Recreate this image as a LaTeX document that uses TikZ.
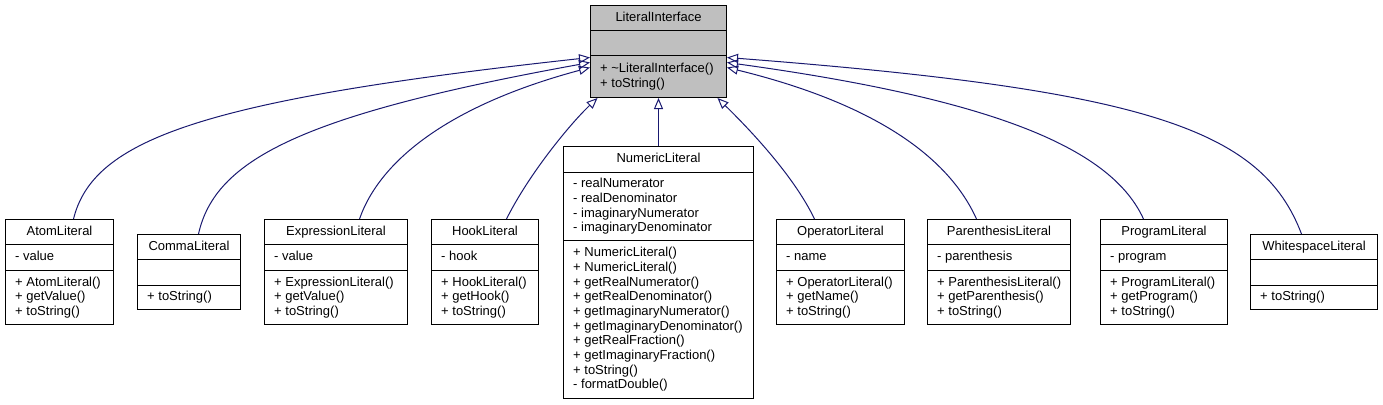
\documentclass[tikz,border=0pt]{standalone}
\usepackage{fontspec}
\setmainfont{Liberation Sans}
\usetikzlibrary{arrows.meta,calc}
\definecolor{edgeblue}{HTML}{191970}
\definecolor{ifacegray}{HTML}{BFBFBF}
\newcommand{\tstrut}{\rule{0pt}{11pt}}
\begin{document}
\begin{tikzpicture}[x=1pt,y=-1pt,
  clsbox/.style={draw=black, line width=1pt, fill=white, inner sep=0pt, anchor=north west},
  divline/.style={draw=black, line width=1pt},
  ttl/.style={font=\fontsize{13}{14.67}\selectfont, inner sep=0pt, anchor=base},
  mem/.style={font=\fontsize{13}{14.67}\selectfont, inner sep=0pt, anchor=north west, align=left},
  inh/.style={draw=edgeblue, line width=1pt, -{Triangle[open, length=11pt, width=9pt]}}]
\useasboundingbox (0,0) rectangle (1383,404);

% ---------- LiteralInterface
\node[clsbox, fill=ifacegray, minimum width=136pt, minimum height=92pt] (iface) at (590,5) {};
\draw[divline] ($(iface.north west)+(0,26)$) -- ($(iface.north east)+(0,26)$);
\draw[divline] ($(iface.north west)+(0,51)$) -- ($(iface.north east)+(0,51)$);
\node[ttl] (ifaceT) at ($(iface.north)+(0,16.5)$) {LiteralInterface};
\node[mem] (ifaceM) at ($(iface.north west)+(10,56.7)$) {\tstrut+ \textasciitilde LiteralInterface()\\+ toString()};

% ---------- AtomLiteral
\node[clsbox, minimum width=108pt, minimum height=105pt] (atom) at (5,219) {};
\draw[divline] ($(atom.north west)+(0,25)$) -- ($(atom.north east)+(0,25)$);
\draw[divline] ($(atom.north west)+(0,51)$) -- ($(atom.north east)+(0,51)$);
\node[ttl] (atomT) at ($(atom.north)+(0,16)$) {AtomLiteral};
\node[mem] (atomA) at ($(atom.north west)+(10,30.5)$) {\tstrut- value};
\node[mem] (atomM) at ($(atom.north west)+(10,55.8)$) {\tstrut+ AtomLiteral()\\+ getValue()\\+ toString()};

% ---------- CommaLiteral
\node[clsbox, minimum width=103pt, minimum height=75pt] (comma) at (137,234) {};
\draw[divline] ($(comma.north west)+(0,25)$) -- ($(comma.north east)+(0,25)$);
\draw[divline] ($(comma.north west)+(0,51)$) -- ($(comma.north east)+(0,51)$);
\node[ttl] (commaT) at ($(comma.north)+(0,16)$) {CommaLiteral};
\node[mem] (commaM) at ($(comma.north west)+(10,55.5)$) {\tstrut+ toString()};

% ---------- ExpressionLiteral
\node[clsbox, minimum width=143pt, minimum height=105pt] (expr) at (264,219) {};
\draw[divline] ($(expr.north west)+(0,25)$) -- ($(expr.north east)+(0,25)$);
\draw[divline] ($(expr.north west)+(0,51)$) -- ($(expr.north east)+(0,51)$);
\node[ttl] (exprT) at ($(expr.north)+(0,16)$) {ExpressionLiteral};
\node[mem] (exprA) at ($(expr.north west)+(10,30.5)$) {\tstrut- value};
\node[mem] (exprM) at ($(expr.north west)+(10,55.8)$) {\tstrut+ ExpressionLiteral()\\+ getValue()\\+ toString()};

% ---------- HookLiteral
\node[clsbox, minimum width=107pt, minimum height=105pt] (hook) at (431,219) {};
\draw[divline] ($(hook.north west)+(0,25)$) -- ($(hook.north east)+(0,25)$);
\draw[divline] ($(hook.north west)+(0,51)$) -- ($(hook.north east)+(0,51)$);
\node[ttl] (hookT) at ($(hook.north)+(0,16)$) {HookLiteral};
\node[mem] (hookA) at ($(hook.north west)+(10,30.5)$) {\tstrut- hook};
\node[mem] (hookM) at ($(hook.north west)+(10,55.8)$) {\tstrut+ HookLiteral()\\+ getHook()\\+ toString()};

% ---------- NumericLiteral
\node[clsbox, minimum width=190pt, minimum height=252pt] (num) at (563,146) {};
\draw[divline] ($(num.north west)+(0,26)$) -- ($(num.north east)+(0,26)$);
\draw[divline] ($(num.north west)+(0,94)$) -- ($(num.north east)+(0,94)$);
\node[ttl] (numT) at ($(num.north)+(0,16.5)$) {NumericLiteral};
\node[mem] (numA) at ($(num.north west)+(10,30.5)$) {\tstrut- realNumerator\\- realDenominator\\- imaginaryNumerator\\- imaginaryDenominator};
\node[mem] (numM) at ($(num.north west)+(10,99.5)$) {\tstrut+ NumericLiteral()\\+ NumericLiteral()\\+ getRealNumerator()\\+ getRealDenominator()\\+ getImaginaryNumerator()\\+ getImaginaryDenominator()\\+ getRealFraction()\\+ getImaginaryFraction()\\+ toString()\\- formatDouble()};

% ---------- OperatorLiteral
\node[clsbox, minimum width=128pt, minimum height=105pt] (oper) at (776,219) {};
\draw[divline] ($(oper.north west)+(0,25)$) -- ($(oper.north east)+(0,25)$);
\draw[divline] ($(oper.north west)+(0,51)$) -- ($(oper.north east)+(0,51)$);
\node[ttl] (operT) at ($(oper.north)+(0,16)$) {OperatorLiteral};
\node[mem] (operA) at ($(oper.north west)+(10,30.5)$) {\tstrut- name};
\node[mem] (operM) at ($(oper.north west)+(10,55.8)$) {\tstrut+ OperatorLiteral()\\+ getName()\\+ toString()};

% ---------- ParenthesisLiteral
\node[clsbox, minimum width=143pt, minimum height=105pt] (paren) at (927,219) {};
\draw[divline] ($(paren.north west)+(0,25)$) -- ($(paren.north east)+(0,25)$);
\draw[divline] ($(paren.north west)+(0,51)$) -- ($(paren.north east)+(0,51)$);
\node[ttl] (parenT) at ($(paren.north)+(0,16)$) {ParenthesisLiteral};
\node[mem] (parenA) at ($(paren.north west)+(10,30.5)$) {\tstrut- parenthesis};
\node[mem] (parenM) at ($(paren.north west)+(10,55.8)$) {\tstrut+ ParenthesisLiteral()\\+ getParenthesis()\\+ toString()};

% ---------- ProgramLiteral
\node[clsbox, minimum width=127pt, minimum height=105pt] (prog) at (1100,219) {};
\draw[divline] ($(prog.north west)+(0,25)$) -- ($(prog.north east)+(0,25)$);
\draw[divline] ($(prog.north west)+(0,51)$) -- ($(prog.north east)+(0,51)$);
\node[ttl] (progT) at ($(prog.north)+(0,16)$) {ProgramLiteral};
\node[mem] (progA) at ($(prog.north west)+(10,30.5)$) {\tstrut- program};
\node[mem] (progM) at ($(prog.north west)+(10,55.8)$) {\tstrut+ ProgramLiteral()\\+ getProgram()\\+ toString()};

% ---------- WhitespaceLiteral
\node[clsbox, minimum width=127pt, minimum height=75pt] (ws) at (1250,234) {};
\draw[divline] ($(ws.north west)+(0,25)$) -- ($(ws.north east)+(0,25)$);
\draw[divline] ($(ws.north west)+(0,51)$) -- ($(ws.north east)+(0,51)$);
\node[ttl] (wsT) at ($(ws.north)+(0,16)$) {WhitespaceLiteral};
\node[mem] (wsM) at ($(ws.north west)+(10,55.5)$) {\tstrut+ toString()};

% ---------- inheritance connectors
\draw[inh] ($(atom.north)+(14,0)$) .. controls (93,140) and (200,100) .. ($(iface.west)+(0,6)$);
\draw[inh] ($(comma.north)+(9.5,0)$) .. controls (215,160) and (300,115) .. ($(iface.west)+(0,11)$);
\draw[inh] ($(expr.north)+(23.5,0)$) .. controls (380,160) and (450,105) .. ($(iface.west)+(0,16)$);
\draw[inh] ($(hook.north)+(21.5,0)$) .. controls (530,172) and (572,122) .. ($(iface.south)+(-61,0)$);
\draw[inh] (num.north) -- (iface.south);
\draw[inh] ($(oper.north)+(-26,0)$) .. controls (792,172) and (742,122) .. ($(iface.south)+(59,0)$);
\draw[inh] ($(paren.north)+(-22.5,0)$) .. controls (950,160) and (880,105) .. ($(iface.east)+(0,16)$);
\draw[inh] ($(prog.north)+(-20.5,0)$) .. controls (1112,150) and (1000,100) .. ($(iface.east)+(0,11)$);
\draw[inh] ($(ws.north)+(-12.5,0)$) .. controls (1262,130) and (1150,90) .. ($(iface.east)+(0,6)$);
\end{tikzpicture}
\end{document}
